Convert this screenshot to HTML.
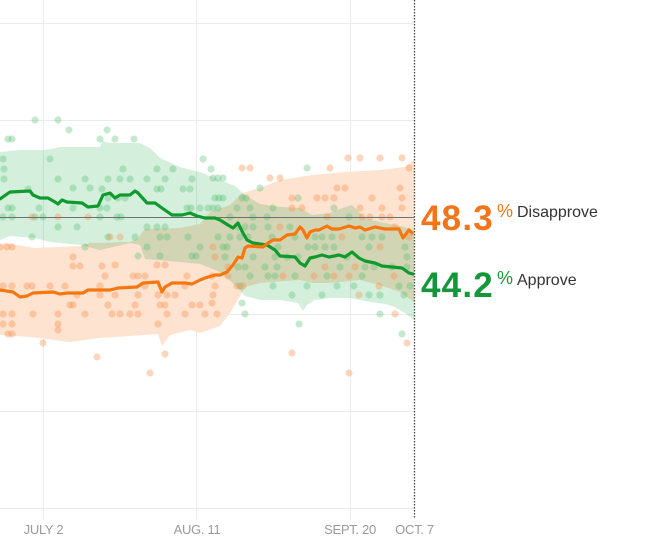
<!DOCTYPE html>
<html>
<head>
<meta charset="utf-8">
<style>
  html, body { margin: 0; padding: 0; background: #ffffff; }
  body { width: 650px; height: 549px; overflow: hidden; }
  svg { display: block; }
  .ax { font-family: "Liberation Sans", Arial, sans-serif; font-size: 13px; fill: #9a9a9a; letter-spacing: -0.3px; }
  .big { font-family: "Liberation Sans", Arial, sans-serif; font-size: 35px; font-weight: bold; letter-spacing: 1.2px; }
  .pct { font-family: "Liberation Sans", Arial, sans-serif; font-size: 18px; }
  .lab { font-family: "Liberation Sans", Arial, sans-serif; font-size: 16px; fill: #333333; }
</style>
</head>
<body>
<svg width="650" height="549" viewBox="0 0 650 549" xmlns="http://www.w3.org/2000/svg">
  <rect x="0" y="0" width="650" height="549" fill="#ffffff"/>

  <!-- grid lines -->
  <g stroke="#ececec" stroke-width="1">
    <line x1="0" y1="23.5" x2="414" y2="23.5"/>
    <line x1="0" y1="120.5" x2="414" y2="120.5"/>
    <line x1="0" y1="314.5" x2="414" y2="314.5"/>
    <line x1="0" y1="411.5" x2="414" y2="411.5"/>
    <line x1="0" y1="508.5" x2="414" y2="508.5"/>
    <line x1="43.5" y1="0" x2="43.5" y2="520"/>
    <line x1="196.5" y1="0" x2="196.5" y2="520"/>
    <line x1="350.5" y1="0" x2="350.5" y2="520"/>
  </g>

  <!-- orange band (disapprove) -->
  <polygon fill="#fde3d0" points="0,245 5,243 35,248 80,246 90,243 130,242 138,238 145,229 180,228 200,224 210,212 230,205 242,193 260,188 280,180 300,177 312,175 345,172 380,170 405,167 414,160 414,302 400,292 380,285 360,280 330,283 312,283 300,280 260,283 245,287 238,300 230,313 220,326 200,333 190,330 170,335 162,346 158,334 130,336 100,338 70,342 30,337 0,335"/>

  <!-- green band (approve) -->
  <polygon fill="#d4f0dd" style="mix-blend-mode:multiply" points="0,152 20,150 45,150 60,147 100,147 102,141 110,143 140,143 150,148 160,158 180,167 200,172 220,180 235,186 245,195 260,204 280,207 300,208 312,215 330,213 345,207 352,205 365,218 380,222 400,226 414,230 414,320 405,313 395,307 385,304 370,302 350,298 330,298 315,300 307,305 303,311 298,303 280,300 260,300 245,296 235,285 220,272 200,264 180,262 145,259 140,245 130,243 100,250 80,245 50,242 35,238 10,236 0,240"/>

  <!-- green dots -->
  <g fill="#4fbb6e" fill-opacity="0.33">
    <circle cx="35" cy="120" r="3.6"/><circle cx="58" cy="120" r="3.6"/><circle cx="69" cy="130" r="3.6"/><circle cx="107" cy="130" r="3.6"/>
    <circle cx="100" cy="139" r="3.6"/><circle cx="8" cy="139" r="3.6"/><circle cx="12" cy="139" r="3.6"/><circle cx="115" cy="139" r="3.6"/>
    <circle cx="134" cy="139" r="3.6"/><circle cx="3" cy="159" r="3.6"/><circle cx="50" cy="159" r="3.6"/><circle cx="203" cy="159" r="3.6"/>
    <circle cx="4" cy="169" r="3.6"/><circle cx="123" cy="169" r="3.6"/><circle cx="157" cy="169" r="3.6"/><circle cx="173" cy="169" r="3.6"/>
    <circle cx="211" cy="169" r="3.6"/><circle cx="307" cy="168" r="3.6"/><circle cx="4" cy="179" r="3.6"/><circle cx="58" cy="179" r="3.6"/>
    <circle cx="85" cy="179" r="3.6"/><circle cx="108" cy="179" r="3.6"/><circle cx="120" cy="179" r="3.6"/><circle cx="130" cy="179" r="3.6"/>
    <circle cx="147" cy="179" r="3.6"/><circle cx="165" cy="179" r="3.6"/><circle cx="192" cy="179" r="3.6"/><circle cx="213" cy="178" r="3.6"/>
    <circle cx="218" cy="178" r="3.6"/><circle cx="223" cy="178" r="3.6"/><circle cx="28" cy="189" r="3.6"/><circle cx="73" cy="188" r="3.6"/>
    <circle cx="90" cy="188" r="3.6"/><circle cx="102" cy="189" r="3.6"/><circle cx="157" cy="189" r="3.6"/><circle cx="161" cy="189" r="3.6"/>
    <circle cx="183" cy="189" r="3.6"/><circle cx="190" cy="189" r="3.6"/><circle cx="260" cy="188" r="3.6"/><circle cx="108" cy="198" r="3.6"/>
    <circle cx="118" cy="198" r="3.6"/><circle cx="125" cy="198" r="3.6"/><circle cx="215" cy="198" r="3.6"/><circle cx="219" cy="198" r="3.6"/>
    <circle cx="223" cy="198" r="3.6"/><circle cx="242" cy="198" r="3.6"/><circle cx="246" cy="198" r="3.6"/><circle cx="298" cy="198" r="3.6"/>
    <circle cx="8" cy="208" r="3.6"/><circle cx="12" cy="208" r="3.6"/><circle cx="39" cy="208" r="3.6"/><circle cx="73" cy="208" r="3.6"/>
    <circle cx="100" cy="208" r="3.6"/><circle cx="107" cy="208" r="3.6"/><circle cx="187" cy="208" r="3.6"/><circle cx="191" cy="208" r="3.6"/>
    <circle cx="200" cy="208" r="3.6"/><circle cx="208" cy="208" r="3.6"/><circle cx="213" cy="208" r="3.6"/><circle cx="218" cy="208" r="3.6"/>
    <circle cx="237" cy="208" r="3.6"/><circle cx="250" cy="208" r="3.6"/><circle cx="273" cy="208" r="3.6"/><circle cx="334" cy="208" r="3.6"/>
    <circle cx="3" cy="217" r="3.6"/><circle cx="12" cy="217" r="3.6"/><circle cx="35" cy="217" r="3.6"/><circle cx="43" cy="217" r="3.6"/>
    <circle cx="100" cy="217" r="3.6"/><circle cx="117" cy="217" r="3.6"/><circle cx="121" cy="217" r="3.6"/><circle cx="230" cy="217" r="3.6"/>
    <circle cx="253" cy="217" r="3.6"/><circle cx="267" cy="217" r="3.6"/><circle cx="349" cy="217" r="3.6"/><circle cx="58" cy="227" r="3.6"/>
    <circle cx="77" cy="227" r="3.6"/><circle cx="147" cy="227" r="3.6"/><circle cx="157" cy="227" r="3.6"/><circle cx="165" cy="227" r="3.6"/>
    <circle cx="238" cy="227" r="3.6"/><circle cx="245" cy="227" r="3.6"/><circle cx="253" cy="227" r="3.6"/><circle cx="268" cy="227" r="3.6"/>
    <circle cx="290" cy="227" r="3.6"/><circle cx="32" cy="237" r="3.6"/><circle cx="108" cy="237" r="3.6"/><circle cx="135" cy="237" r="3.6"/>
    <circle cx="160" cy="237" r="3.6"/><circle cx="167" cy="237" r="3.6"/><circle cx="188" cy="237" r="3.6"/><circle cx="218" cy="237" r="3.6"/>
    <circle cx="230" cy="237" r="3.6"/><circle cx="240" cy="237" r="3.6"/><circle cx="248" cy="237" r="3.6"/><circle cx="272" cy="237" r="3.6"/>
    <circle cx="295" cy="237" r="3.6"/><circle cx="315" cy="237" r="3.6"/><circle cx="322" cy="237" r="3.6"/><circle cx="332" cy="237" r="3.6"/>
    <circle cx="362" cy="237" r="3.6"/><circle cx="372" cy="237" r="3.6"/><circle cx="382" cy="237" r="3.6"/><circle cx="85" cy="247" r="3.6"/>
    <circle cx="147" cy="247" r="3.6"/><circle cx="200" cy="247" r="3.6"/><circle cx="223" cy="247" r="3.6"/><circle cx="227" cy="247" r="3.6"/>
    <circle cx="278" cy="247" r="3.6"/><circle cx="308" cy="247" r="3.6"/><circle cx="315" cy="247" r="3.6"/><circle cx="325" cy="247" r="3.6"/>
    <circle cx="334" cy="247" r="3.6"/><circle cx="369" cy="247" r="3.6"/><circle cx="405" cy="247" r="3.6"/><circle cx="138" cy="256" r="3.6"/>
    <circle cx="160" cy="256" r="3.6"/><circle cx="192" cy="256" r="3.6"/><circle cx="196" cy="256" r="3.6"/><circle cx="225" cy="257" r="3.6"/>
    <circle cx="253" cy="257" r="3.6"/><circle cx="275" cy="257" r="3.6"/><circle cx="287" cy="257" r="3.6"/><circle cx="298" cy="257" r="3.6"/>
    <circle cx="347" cy="257" r="3.6"/><circle cx="407" cy="257" r="3.6"/><circle cx="238" cy="267" r="3.6"/><circle cx="245" cy="267" r="3.6"/>
    <circle cx="265" cy="267" r="3.6"/><circle cx="277" cy="267" r="3.6"/><circle cx="340" cy="267" r="3.6"/><circle cx="365" cy="267" r="3.6"/>
    <circle cx="374" cy="267" r="3.6"/><circle cx="392" cy="267" r="3.6"/><circle cx="407" cy="267" r="3.6"/><circle cx="250" cy="276" r="3.6"/>
    <circle cx="268" cy="276" r="3.6"/><circle cx="275" cy="276" r="3.6"/><circle cx="295" cy="276" r="3.6"/><circle cx="327" cy="276" r="3.6"/>
    <circle cx="362" cy="276" r="3.6"/><circle cx="240" cy="286" r="3.6"/><circle cx="273" cy="286" r="3.6"/><circle cx="307" cy="286" r="3.6"/>
    <circle cx="337" cy="286" r="3.6"/><circle cx="354" cy="286" r="3.6"/><circle cx="399" cy="286" r="3.6"/><circle cx="410" cy="286" r="3.6"/>
    <circle cx="292" cy="295" r="3.6"/><circle cx="322" cy="295" r="3.6"/><circle cx="369" cy="295" r="3.6"/><circle cx="380" cy="295" r="3.6"/>
    <circle cx="404" cy="295" r="3.6"/><circle cx="242" cy="303" r="3.6"/><circle cx="245" cy="314" r="3.6"/><circle cx="380" cy="314" r="3.6"/>
    <circle cx="299" cy="324" r="3.6"/><circle cx="402" cy="334" r="3.6"/>
  </g>

  <!-- orange dots -->
  <g fill="#f7934f" fill-opacity="0.38">
    <circle cx="242" cy="168" r="3.6"/><circle cx="250" cy="168" r="3.6"/><circle cx="330" cy="168" r="3.6"/><circle cx="409" cy="168" r="3.6"/>
    <circle cx="348" cy="158" r="3.6"/><circle cx="360" cy="158" r="3.6"/><circle cx="380" cy="158" r="3.6"/><circle cx="402" cy="158" r="3.6"/>
    <circle cx="270" cy="178" r="3.6"/><circle cx="280" cy="178" r="3.6"/><circle cx="337" cy="188" r="3.6"/><circle cx="345" cy="188" r="3.6"/>
    <circle cx="400" cy="188" r="3.6"/><circle cx="317" cy="198" r="3.6"/><circle cx="325" cy="198" r="3.6"/><circle cx="334" cy="198" r="3.6"/>
    <circle cx="372" cy="198" r="3.6"/><circle cx="402" cy="198" r="3.6"/><circle cx="292" cy="198" r="3.6"/><circle cx="292" cy="208" r="3.6"/>
    <circle cx="302" cy="208" r="3.6"/><circle cx="360" cy="208" r="3.6"/><circle cx="382" cy="208" r="3.6"/><circle cx="402" cy="208" r="3.6"/>
    <circle cx="58" cy="217" r="3.6"/><circle cx="88" cy="217" r="3.6"/><circle cx="32" cy="217" r="3.6"/><circle cx="327" cy="217" r="3.6"/>
    <circle cx="362" cy="217" r="3.6"/><circle cx="370" cy="217" r="3.6"/><circle cx="382" cy="217" r="3.6"/><circle cx="390" cy="217" r="3.6"/>
    <circle cx="280" cy="227" r="3.6"/><circle cx="395" cy="227" r="3.6"/><circle cx="110" cy="237" r="3.6"/><circle cx="120" cy="237" r="3.6"/>
    <circle cx="342" cy="237" r="3.6"/><circle cx="409" cy="237" r="3.6"/><circle cx="0" cy="247" r="3.6"/><circle cx="7" cy="247" r="3.6"/>
    <circle cx="12" cy="247" r="3.6"/><circle cx="213" cy="247" r="3.6"/><circle cx="380" cy="247" r="3.6"/><circle cx="73" cy="257" r="3.6"/>
    <circle cx="215" cy="257" r="3.6"/><circle cx="228" cy="267" r="3.6"/><circle cx="73" cy="266" r="3.6"/><circle cx="80" cy="266" r="3.6"/>
    <circle cx="102" cy="266" r="3.6"/><circle cx="115" cy="265" r="3.6"/><circle cx="157" cy="265" r="3.6"/><circle cx="165" cy="265" r="3.6"/>
    <circle cx="325" cy="267" r="3.6"/><circle cx="355" cy="267" r="3.6"/><circle cx="105" cy="276" r="3.6"/><circle cx="133" cy="276" r="3.6"/>
    <circle cx="138" cy="276" r="3.6"/><circle cx="145" cy="276" r="3.6"/><circle cx="187" cy="276" r="3.6"/><circle cx="212" cy="276" r="3.6"/>
    <circle cx="228" cy="276" r="3.6"/><circle cx="283" cy="276" r="3.6"/><circle cx="314" cy="276" r="3.6"/><circle cx="334" cy="276" r="3.6"/>
    <circle cx="349" cy="276" r="3.6"/><circle cx="394" cy="276" r="3.6"/><circle cx="3" cy="286" r="3.6"/><circle cx="12" cy="286" r="3.6"/>
    <circle cx="27" cy="286" r="3.6"/><circle cx="32" cy="286" r="3.6"/><circle cx="50" cy="286" r="3.6"/><circle cx="65" cy="286" r="3.6"/>
    <circle cx="100" cy="286" r="3.6"/><circle cx="145" cy="286" r="3.6"/><circle cx="185" cy="286" r="3.6"/><circle cx="215" cy="286" r="3.6"/>
    <circle cx="237" cy="286" r="3.6"/><circle cx="243" cy="286" r="3.6"/><circle cx="379" cy="286" r="3.6"/><circle cx="77" cy="295" r="3.6"/>
    <circle cx="100" cy="295" r="3.6"/><circle cx="115" cy="295" r="3.6"/><circle cx="138" cy="295" r="3.6"/><circle cx="158" cy="295" r="3.6"/>
    <circle cx="167" cy="295" r="3.6"/><circle cx="175" cy="295" r="3.6"/><circle cx="213" cy="295" r="3.6"/><circle cx="359" cy="295" r="3.6"/>
    <circle cx="70" cy="305" r="3.6"/><circle cx="73" cy="305" r="3.6"/><circle cx="108" cy="305" r="3.6"/><circle cx="135" cy="305" r="3.6"/>
    <circle cx="160" cy="305" r="3.6"/><circle cx="165" cy="305" r="3.6"/><circle cx="192" cy="305" r="3.6"/><circle cx="200" cy="305" r="3.6"/>
    <circle cx="212" cy="303" r="3.6"/><circle cx="3" cy="314" r="3.6"/><circle cx="12" cy="314" r="3.6"/><circle cx="33" cy="314" r="3.6"/>
    <circle cx="58" cy="314" r="3.6"/><circle cx="85" cy="314" r="3.6"/><circle cx="112" cy="314" r="3.6"/><circle cx="120" cy="314" r="3.6"/>
    <circle cx="130" cy="314" r="3.6"/><circle cx="138" cy="314" r="3.6"/><circle cx="167" cy="314" r="3.6"/><circle cx="185" cy="314" r="3.6"/>
    <circle cx="205" cy="314" r="3.6"/><circle cx="217" cy="314" r="3.6"/><circle cx="395" cy="314" r="3.6"/><circle cx="3" cy="324" r="3.6"/>
    <circle cx="12" cy="324" r="3.6"/><circle cx="58" cy="324" r="3.6"/><circle cx="158" cy="324" r="3.6"/><circle cx="8" cy="334" r="3.6"/>
    <circle cx="12" cy="334" r="3.6"/><circle cx="58" cy="330" r="3.6"/><circle cx="43" cy="343" r="3.6"/><circle cx="97" cy="357" r="3.6"/>
    <circle cx="165" cy="354" r="3.6"/><circle cx="150" cy="373" r="3.6"/><circle cx="292" cy="353" r="3.6"/><circle cx="349" cy="373" r="3.6"/>
    <circle cx="407" cy="343" r="3.6"/>
  </g>

  <!-- 50% line -->
  <line x1="0" y1="217.5" x2="414" y2="217.5" stroke="#707070" stroke-width="1"/>

  <!-- approve line -->
  <polyline fill="none" stroke="#109a2e" stroke-width="3.2" stroke-linejoin="round" stroke-linecap="round"
    points="0,199 10,192 30,191 33,195 40,198 48,198 55,202 58,204 62,200 67,202 82,203 88,207 98,206 103,195 110,193 115,198 120,195 130,195 135,191 138,193 147,203 155,203 162,208 172,215 182,215 190,213 197,216 205,218 215,218 220,220 228,225 233,228 238,223 243,233 247,240 253,243 267,245 275,250 280,256 295,257 300,263 305,266 310,258 315,257 322,255 329,257 339,255 345,257 352,252 359,258 365,261 375,263 382,266 392,267 402,268 409,273 413,274"/>

  <!-- disapprove line -->
  <polyline fill="none" stroke="#f7770f" stroke-width="3.2" stroke-linejoin="round" stroke-linecap="round"
    points="0,290 13,292 20,297 27,296 33,293 53,292 60,294 67,293 83,293 88,290 110,290 118,288 137,287 143,283 158,282 162,292 165,287 172,283 185,283 192,284 200,280 205,278 215,275 220,275 227,272 233,265 238,257 242,258 245,248 248,246 263,247 268,243 273,240 280,240 287,235 295,234 300,227 303,230 307,238 310,232 315,230 319,230 327,226 332,229 339,229 349,226 355,228 360,227 365,230 375,227 385,229 399,229 403,238 409,230 412,233"/>

  <!-- dotted current-date line -->
  <line x1="414.5" y1="0" x2="414.5" y2="518" stroke="#444444" stroke-width="1.3" stroke-dasharray="1.5,1.5"/>

  <!-- axis labels -->
  <text class="ax" x="43.5" y="534" text-anchor="middle">JULY 2</text>
  <text class="ax" x="197" y="534" text-anchor="middle">AUG. 11</text>
  <text class="ax" x="350" y="534" text-anchor="middle">SEPT. 20</text>
  <text class="ax" x="414.5" y="534" text-anchor="middle">OCT. 7</text>

  <!-- end labels -->
  <text class="big" x="421" y="230" fill="#f47419">48.3</text>
  <text class="pct" x="497" y="217" fill="#f47419">%</text>
  <text class="lab" x="517" y="217">Disapprove</text>

  <text class="big" x="421" y="297" fill="#14973a">44.2</text>
  <text class="pct" x="497" y="284" fill="#14973a">%</text>
  <text class="lab" x="517" y="285">Approve</text>
</svg>
</body>
</html>
